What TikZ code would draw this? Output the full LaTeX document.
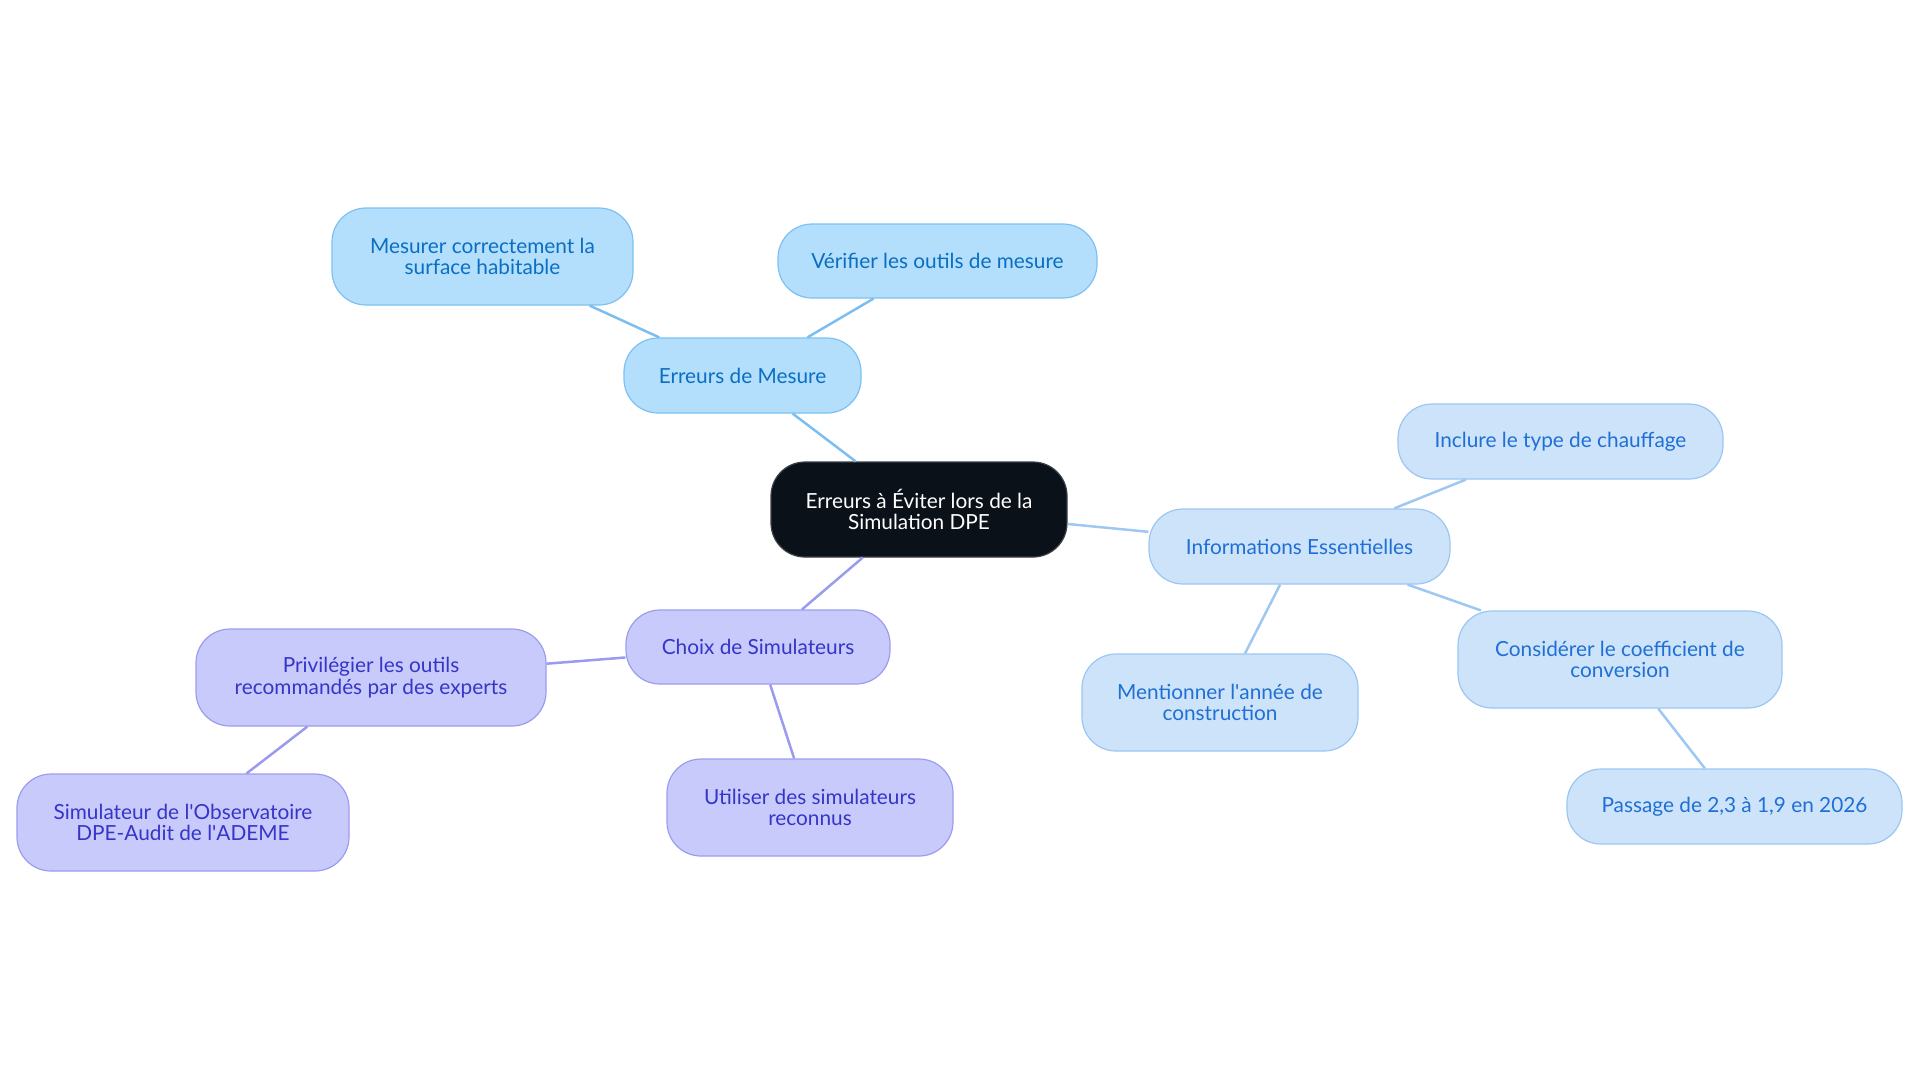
\documentclass[tikz,border=0pt]{standalone}
\usepackage{fontspec}
\setmainfont{Lato}
\definecolor{rootfill}{HTML}{0B1119}
\definecolor{rootdraw}{HTML}{3A3F48}
\definecolor{mesfill}{HTML}{B3DEFC}
\definecolor{mesdraw}{HTML}{7DC1F1}
\definecolor{mestext}{HTML}{0A6FC2}
\definecolor{mesline}{HTML}{7DBEF0}
\definecolor{inffill}{HTML}{CDE3FA}
\definecolor{infdraw}{HTML}{9CC6F2}
\definecolor{inftext}{HTML}{1F6FD4}
\definecolor{infline}{HTML}{9EC8F2}
\definecolor{purfill}{HTML}{C9CAFC}
\definecolor{purdraw}{HTML}{9C9CEE}
\definecolor{purtext}{HTML}{3535C8}
\definecolor{purline}{HTML}{9A9AEE}
\newcommand{\apos}{\textquotesingle}
\tikzset{
  base/.style={rounded corners=17pt, align=center, inner sep=0pt, line width=0.6pt,
    font=\fontsize{10.4}{10.9}\selectfont},
  sz/.style 2 args={minimum width=#1*0.5pt, minimum height=#2*0.5pt},
  rootbox/.style={base, fill=rootfill, draw=rootdraw, text=white},
  mesbox/.style={base, fill=mesfill, draw=mesdraw, text=mestext},
  infbox/.style={base, fill=inffill, draw=infdraw, text=inftext},
  purbox/.style={base, fill=purfill, draw=purdraw, text=purtext},
  link/.style={line width=1.25pt},
}
\begin{document}
\begin{tikzpicture}[x=0.5pt, y=-0.5pt]
\useasboundingbox (0,0) rectangle (1920,1083);
\node[rootbox, sz={296}{95}] (root) at (919,509.5) {Erreurs à Éviter lors de la\\Simulation DPE};
\node[mesbox, sz={237}{75}] (mes) at (742.5,375.5) {Erreurs de Mesure};
\node[mesbox, sz={301}{97}] (mes1) at (482.5,256.5) {Mesurer correctement la\\surface habitable};
\node[mesbox, sz={319}{74}] (mes2) at (937.5,261) {Vérifier les outils de mesure};
\node[infbox, sz={301}{75}] (inf) at (1299.5,546.5) {Informations Essentielles};
\node[infbox, sz={325}{75}] (inf1) at (1560.5,441.5) {Inclure le type de chauffage};
\node[infbox, sz={276}{97}] (inf2) at (1220,702.5) {Mentionner l\apos année de\\construction};
\node[infbox, sz={324}{97}] (inf3) at (1620,659.5) {Considérer le coefficient de\\conversion};
\node[infbox, sz={335}{75}] (inf4) at (1734.5,806.5) {Passage de 2,3 à 1,9 en 2026};
\node[purbox, sz={264}{74}] (pur) at (758,647) {Choix de Simulateurs};
\node[purbox, sz={350}{97}] (pur1) at (371,677.5) {Privilégier les outils\\recommandés par des experts};
\node[purbox, sz={332}{97}] (pur2) at (183,822.5) {Simulateur de l\apos Observatoire\\DPE-Audit de l\apos ADEME};
\node[purbox, sz={286}{97}] (pur3) at (810,807.5) {Utiliser des simulateurs\\reconnus};
\draw[link, mesline] (root) -- (mes);
\draw[link, mesline] (mes) -- (mes1);
\draw[link, mesline] (mes) -- (mes2);
\draw[link, infline] (root) -- (inf);
\draw[link, infline] (inf) -- (inf1);
\draw[link, infline] (inf) -- (inf2);
\draw[link, infline] (inf) -- (inf3);
\draw[link, infline] (inf3) -- (inf4);
\draw[link, purline] (root) -- (pur);
\draw[link, purline] (pur) -- (pur1);
\draw[link, purline] (pur1) -- (pur2);
\draw[link, purline] (pur) -- (pur3);
\end{tikzpicture}
\end{document}
